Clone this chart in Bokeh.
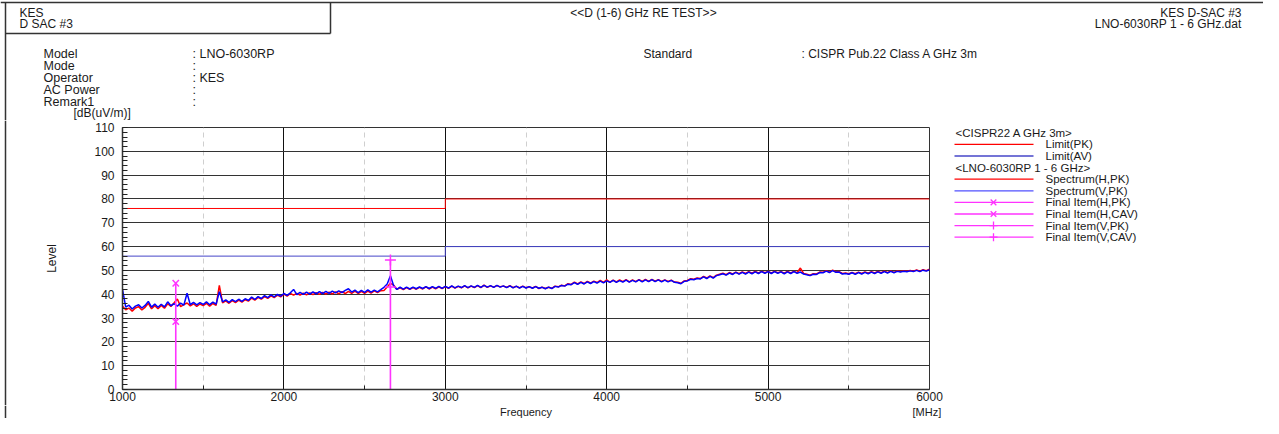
import numpy as np
from bokeh.plotting import figure
from bokeh.layouts import column, row
from bokeh.models import Range1d, FixedTicker
from bokeh.core.properties import value
from bokeh.embed import file_html
from bokeh.resources import INLINE

# ---------------- data ----------------
FREQ_START = 1000   # MHz, first spectrum sample
FREQ_STEP = 20      # MHz between spectrum samples

SPEC_H_PK = [
    35.0, 33.5, 34.2, 32.9, 34.2, 34.8, 33.4, 34.5, 36.2, 33.9,
    35.2, 33.9, 35.3, 34.1, 36.0, 34.9, 36.4, 38.0, 34.8, 35.6,
    36.3, 35.1, 36.0, 34.9, 35.9, 35.2, 36.2, 35.0, 36.1, 35.3,
    43.7, 36.4, 37.2, 36.2, 37.3, 36.5, 37.5, 36.7, 37.7, 37.1,
    38.4, 37.5, 38.7, 37.9, 39.0, 38.3, 39.3, 38.6, 39.6, 38.9,
    40.0, 39.2, 40.3, 39.6, 40.4, 39.6, 40.5, 39.7, 40.6, 39.8,
    40.7, 39.9, 40.8, 40.0, 40.9, 40.1, 41.0, 40.2, 41.1, 40.3,
    41.2, 40.4, 41.3, 40.3, 41.2, 40.4, 41.3, 40.5, 41.4, 40.7,
    41.5, 41.6, 43.0, 44.6, 43.8, 42.1, 42.7, 41.9, 42.8, 42.0,
    42.8, 42.1, 42.9, 42.2, 43.1, 42.2, 43.0, 42.3, 43.1, 42.4,
    43.2, 42.5, 43.4, 42.6, 43.3, 42.7, 43.5, 42.7, 43.4, 42.8,
    43.6, 42.8, 43.8, 42.9, 43.5, 43.0, 43.6, 43.1, 43.4, 42.9,
    43.6, 42.8, 43.3, 42.7, 43.4, 42.7, 43.1, 42.6, 43.3, 42.4,
    43.0, 42.4, 42.9, 42.5, 43.4, 43.1, 43.8, 43.5, 44.4, 44.1,
    45.1, 44.3, 45.2, 44.5, 45.4, 44.7, 45.5, 44.9, 45.8, 45.0,
    46.0, 45.1, 45.9, 45.2, 46.0, 45.3, 46.1, 45.2, 46.0, 45.3,
    46.1, 45.4, 46.2, 45.4, 46.2, 45.5, 46.1, 45.4, 46.0, 45.4,
    45.9, 45.1, 45.0, 44.6, 45.6, 45.8, 46.5, 46.3, 46.8, 46.6,
    47.5, 46.8, 47.7, 47.0, 48.0, 48.4, 48.8, 48.2, 49.1, 48.5,
    49.3, 48.6, 49.4, 48.7, 49.5, 48.8, 49.6, 48.9, 49.6, 49.0,
    49.6, 48.9, 49.6, 49.0, 49.5, 48.8, 49.6, 48.9, 49.6, 49.0,
    51.0, 48.7, 48.4, 48.0, 48.6, 48.5, 49.3, 49.2, 49.9, 49.3,
    50.1, 49.4, 49.5, 48.7, 48.9, 48.6, 49.2, 48.6, 49.3, 48.7,
    49.4, 48.8, 49.5, 48.9, 49.6, 49.0, 49.7, 49.1, 49.8, 49.2,
    49.8, 49.5, 49.8, 49.6, 50.0, 49.7, 50.2, 49.7, 50.3, 49.9,
    50.5,
]

SPEC_V_PK = [
    42.0, 34.6, 35.4, 33.8, 35.0, 35.6, 34.2, 35.3, 37.0, 34.6,
    35.9, 34.5, 35.8, 34.7, 36.8, 35.2, 36.0, 35.0, 36.3, 35.4,
    40.4, 35.6, 36.6, 35.5, 36.5, 35.7, 36.8, 35.6, 36.7, 35.8,
    41.1, 36.8, 37.6, 36.6, 37.7, 36.9, 37.9, 37.0, 38.1, 37.4,
    38.8, 37.8, 39.0, 38.2, 39.4, 38.6, 39.7, 38.9, 39.9, 39.2,
    40.3, 39.5, 40.6, 42.0, 39.8, 40.8, 39.9, 40.9, 40.0, 41.0,
    40.2, 41.1, 40.3, 41.2, 40.4, 41.3, 40.6, 41.4, 40.7, 41.6,
    42.3, 40.9, 41.7, 40.7, 41.6, 40.8, 41.8, 40.9, 41.7, 41.0,
    41.9, 42.9, 44.3, 47.8, 43.6, 42.0, 43.0, 42.1, 43.0, 42.2,
    43.0, 42.3, 43.1, 42.4, 43.2, 42.4, 43.2, 42.5, 43.3, 42.5,
    43.3, 42.6, 43.5, 42.7, 43.4, 42.8, 43.6, 42.8, 43.5, 42.9,
    43.7, 42.9, 43.7, 43.0, 43.6, 42.9, 43.7, 43.0, 43.5, 42.8,
    43.5, 42.7, 43.4, 42.6, 43.3, 42.6, 43.2, 42.5, 43.2, 42.5,
    42.9, 42.3, 43.0, 42.4, 43.3, 43.0, 43.7, 43.4, 44.2, 44.0,
    44.9, 44.1, 45.0, 44.3, 45.2, 44.5, 45.3, 44.7, 45.5, 44.8,
    45.6, 45.0, 45.8, 45.0, 45.7, 45.1, 45.9, 45.1, 45.8, 45.2,
    46.0, 45.2, 46.0, 45.3, 46.1, 45.3, 46.0, 45.2, 45.9, 45.2,
    45.8, 45.0, 44.8, 44.4, 45.4, 45.6, 46.3, 46.1, 46.6, 46.4,
    47.3, 46.6, 47.5, 46.8, 47.8, 48.2, 48.6, 48.0, 48.9, 48.3,
    49.2, 48.4, 49.2, 48.5, 49.3, 48.6, 49.4, 48.7, 49.5, 48.8,
    49.5, 48.7, 49.5, 48.8, 49.4, 48.6, 49.4, 48.7, 49.5, 48.8,
    49.3, 48.5, 48.2, 47.8, 48.4, 48.3, 49.1, 49.0, 49.7, 49.1,
    49.9, 49.2, 49.3, 48.5, 48.7, 48.4, 49.0, 48.4, 49.1, 48.5,
    49.2, 48.6, 49.3, 48.7, 49.4, 48.8, 49.5, 48.9, 49.6, 49.0,
    49.6, 49.3, 49.6, 49.4, 49.8, 49.5, 50.0, 49.5, 50.1, 49.7,
    50.3,
]

LIMIT_FREQ = [1000, 3000, 3000, 6000]
LIMIT_PK = [76, 76, 80, 80]
LIMIT_AV = [56, 56, 60, 60]

FINAL_H_FREQ = [1330]
FINAL_H_PK = [44.6]
FINAL_H_CAV = [28.5]
FINAL_V_FREQ = [2660]
FINAL_V_PK = [54.4]
FINAL_V_CAV = [43.0]

X_TICKS = [1000, 2000, 3000, 4000, 5000, 6000]
X_MINOR = [1500, 2500, 3500, 4500, 5500]
Y_TICKS = [0, 10, 20, 30, 40, 50, 60, 70, 80, 90, 100, 110]
Y_MINOR = list(range(0, 111, 2))

HEADER_ROWS = ["Model", "Mode", "Operator", "AC Power", "Remark1"]
HEADER_VALUES = [": LNO-6030RP", ":", ": KES", ":", ":"]
LEGEND_ROWS = [
    ("header", "<CISPR22 A GHz 3m>", None, None),
    ("line", "Limit(PK)", "#ff0000", None),
    ("line", "Limit(AV)", "#4646c8", None),
    ("header", "<LNO-6030RP 1 - 6 GHz>", None, None),
    ("line", "Spectrum(H,PK)", "#ff0000", None),
    ("line", "Spectrum(V,PK)", "#5050ff", None),
    ("line", "Final Item(H,PK)", "#ff33ff", "x"),
    ("line", "Final Item(H,CAV)", "#ff33ff", "x"),
    ("line", "Final Item(V,PK)", "#ff33ff", "+"),
    ("line", "Final Item(V,CAV)", "#ff33ff", "+"),
]

# ---------------- layout constants (page pixels) ----------------
W = 1263
HEAD_H = 120          # header strip: y 0..120
MID_H = 285           # chart strip:  y 120..405
FOOT_H = 13           # footer strip: y 405..418
LEFT_W = 60           # left strip: x 0..60
MAIN_W = 885          # chart figure: x 60..945
LEG_W = W - LEFT_W - MAIN_W
FRAME_L, FRAME_T, FRAME_W, FRAME_H = 122, 127, 807, 262
FONT = "Liberation Sans"
INK = "#1a1a1a"
MAG = "#ff33ff"
FRAME_LINE = "#333333"


def no_align(f):
    try:
        f.frame_align = False
    except AttributeError:
        pass
    return f


def strip(width, height, x0, y0):
    """A figure whose data units are page pixels (y grows downwards)."""
    f = figure(width=width, height=height, x_range=Range1d(x0, x0 + width),
               y_range=Range1d(y0 + height, y0), output_backend="svg",
               toolbar_location=None, title=None, min_border=0,
               min_border_left=0, min_border_right=0,
               min_border_top=0, min_border_bottom=0,
               x_axis_location=None, y_axis_location=None)
    f.grid.visible = False
    f.outline_line_color = None
    f.background_fill_color = "white"
    f.border_fill_color = "white"
    return no_align(f)


def put_text(f, x, y, s, align="left", size="12px", angle=0.0, color=INK):
    f.text(x=[x], y=[y], text=[s], text_align=value(align),
           text_baseline=value("middle"), text_font=value(FONT),
           text_font_size=value(size), text_color=color, angle=angle)


def put_line(f, x0, y0, x1, y1, color=FRAME_LINE, width=1.5):
    f.segment(x0=[x0], y0=[y0], x1=[x1], y1=[y1], line_color=color, line_width=width)


# ---------------- header ----------------
head = strip(W, HEAD_H, 0, 0)
put_line(head, 0, 2, W, 2)
put_line(head, 5, 2, 5, HEAD_H)
put_line(head, 5, 33, 330, 33)
put_line(head, 330, 2, 330, 33)
put_text(head, 19, 12, "KES")
put_text(head, 19, 23, "D SAC #3")
put_text(head, 643, 12, "<<D (1-6) GHz RE TEST>>", align="center", size="12px")
put_text(head, 1241, 12, "KES D-SAC #3", align="right", size="12px")
put_text(head, 1241, 23, "LNO-6030RP 1 - 6 GHz.dat", align="right", size="12px")
for i, (k, v) in enumerate(zip(HEADER_ROWS, HEADER_VALUES)):
    yy = 53 + 12 * i
    put_text(head, 43, yy, k, size="12.5px")
    put_text(head, 192, yy, v, size="12.5px")
put_text(head, 643, 53, "Standard", size="12px")
put_text(head, 801, 53, ": CISPR Pub.22 Class A GHz 3m", size="12px")
put_text(head, 73, 112.5, "[dB(uV/m)]", size="12px")

# ---------------- left strip ----------------
left = strip(LEFT_W, MID_H, 0, HEAD_H)
put_line(left, 5, HEAD_H, 5, HEAD_H + MID_H)
put_text(left, 51, 258, "Level", align="center", size="12px", angle=np.pi / 2)

# ---------------- main chart ----------------
p = figure(width=MAIN_W, height=MID_H, x_range=Range1d(1000, 6000), y_range=Range1d(0, 110),
           output_backend="svg", toolbar_location=None, title=None,
           min_border_left=FRAME_L - LEFT_W, min_border_top=FRAME_T - HEAD_H,
           min_border_right=LEFT_W + MAIN_W - FRAME_L - FRAME_W,
           min_border_bottom=HEAD_H + MID_H - FRAME_T - FRAME_H)
no_align(p)
p.outline_line_color = FRAME_LINE
p.outline_line_width = 1
p.background_fill_color = "white"
p.border_fill_color = "white"

p.xaxis.ticker = FixedTicker(ticks=X_TICKS, minor_ticks=X_MINOR)
p.yaxis.ticker = FixedTicker(ticks=Y_TICKS, minor_ticks=Y_MINOR)
for ax in (p.xaxis, p.yaxis):
    ax.axis_line_color = FRAME_LINE
    ax.axis_line_width = 1.5
    ax.major_tick_in = 0
    ax.major_tick_out = 0
    ax.minor_tick_out = 0
    ax.minor_tick_line_color = "#222222"
    ax.major_label_text_font = FONT
    ax.major_label_text_font_size = "12px"
    ax.major_label_text_color = INK
p.yaxis.minor_tick_in = 5
p.xaxis.minor_tick_in = 4
p.yaxis.major_label_standoff = 8
p.xaxis.major_label_standoff = 2

p.ygrid.grid_line_color = "#333333"
p.ygrid.grid_line_width = 1
p.xgrid.grid_line_color = "#111111"
p.xgrid.grid_line_width = 1
p.xgrid.minor_grid_line_color = "#cfcfcf"
p.xgrid.minor_grid_line_dash = "5 4"

freq = FREQ_START + FREQ_STEP * np.arange(len(SPEC_H_PK))
p.line(LIMIT_FREQ, LIMIT_PK, line_color="#ff0000", line_width=1)
p.line(LIMIT_FREQ, LIMIT_AV, line_color="#4646c8", line_width=1)
p.line(freq, SPEC_H_PK, line_color="#ff0000", line_width=1.5)
p.line(freq, SPEC_V_PK, line_color="#0000ff", line_width=1.5)

p.segment(x0=FINAL_H_FREQ, y0=[0] * len(FINAL_H_FREQ), x1=FINAL_H_FREQ, y1=FINAL_H_PK,
          line_color=MAG, line_width=1.6)
p.segment(x0=FINAL_V_FREQ, y0=[0] * len(FINAL_V_FREQ), x1=FINAL_V_FREQ, y1=FINAL_V_PK,
          line_color=MAG, line_width=1.6)
p.scatter(FINAL_H_FREQ, FINAL_H_PK, marker="x", size=9, line_color=MAG, line_width=1.5)
p.scatter(FINAL_H_FREQ, FINAL_H_CAV, marker="x", size=9, line_color=MAG, line_width=1.5)
p.scatter(FINAL_V_FREQ, FINAL_V_PK, marker="cross", size=11, line_color=MAG, line_width=1.5)
p.scatter(FINAL_V_FREQ, FINAL_V_CAV, marker="cross", size=11, line_color=MAG, line_width=1.5)

# ---------------- legend strip ----------------
leg = strip(LEG_W, MID_H, LEFT_W + MAIN_W, HEAD_H)
for i, (kind, label, color, mk) in enumerate(LEGEND_ROWS):
    yy = 132.3 + 11.6 * i
    if kind == "header":
        put_text(leg, 955, yy, label, size="11.5px")
        continue
    put_line(leg, 954, yy, 1033, yy, color=color, width=1.3)
    if mk == "x":
        leg.scatter([993], [yy], marker="x", size=8, line_color=color, line_width=1.3)
    elif mk == "+":
        leg.scatter([993], [yy], marker="cross", size=8, line_color=color, line_width=1.3)
    put_text(leg, 1045, yy, label, size="11.5px")

# ---------------- footer ----------------
foot = strip(W, FOOT_H, 0, HEAD_H + MID_H)
put_line(foot, 5, HEAD_H + MID_H, 5, HEAD_H + MID_H + FOOT_H)
put_text(foot, FRAME_L + FRAME_W / 2, 411.3, "Frequency", align="center", size="11px")
put_text(foot, 912, 411.3, "[MHz]", size="11px")

layout = column(head, row(left, p, leg), foot)
open("out.html", "w").write(file_html(layout, INLINE))
